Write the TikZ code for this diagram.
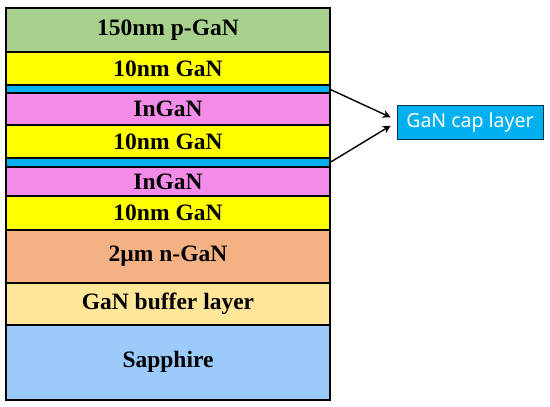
\documentclass[tikz,border=0pt]{standalone}
\usepackage{fontspec}
\setmainfont{Liberation Serif}
\newfontfamily\capfont{Noto Sans}
\usetikzlibrary{arrows.meta}
\definecolor{pgreen}{HTML}{A9D18E}
\definecolor{gyellow}{HTML}{FFFF00}
\definecolor{capblue}{HTML}{00B0F0}
\definecolor{ingpink}{HTML}{F38BE8}
\definecolor{norange}{HTML}{F4B183}
\definecolor{bufyel}{HTML}{FFE699}
\definecolor{sapblue}{HTML}{9ACBFA}
\tikzset{
  layer/.style={draw=black, line width=2.3pt, rectangle, inner sep=0pt, outer sep=0pt,
    minimum width=323.4pt, font=\fontsize{23.5}{25}\selectfont\bfseries, text=black},
  conn/.style={-{Stealth[length=8pt,width=8pt]}, line width=1.4pt, black},
  capbox/.style={draw=black!70!capblue, line width=0.8pt, fill=capblue, text=white,
    minimum width=146pt, minimum height=34pt, inner sep=0pt,
    font=\capfont\fontsize{19.5}{21}\selectfont}
}
\begin{document}
\begin{tikzpicture}[x=1pt,y=-1pt]
\useasboundingbox (0,0) rectangle (550,407);
\node[layer, fill=pgreen, minimum height=44pt] (pgan) at (168,30) {150nm p-GaN};
\node[layer, fill=gyellow, minimum height=33pt] (gan1) at (168,68.5) {10nm GaN};
\node[layer, fill=capblue, minimum height=8.3pt] (blue1) at (168,89.15) {};
\node[layer, fill=ingpink, minimum height=31.4pt] (ingan1) at (168,109) {InGaN};
\node[layer, fill=gyellow, minimum height=33.6pt] (gan2) at (168,141.5) {10nm GaN};
\node[layer, fill=capblue, minimum height=8.7pt] (blue2) at (168,162.65) {};
\node[layer, fill=ingpink, minimum height=29.2pt] (ingan2) at (168,181.6) {InGaN};
\node[layer, fill=gyellow, minimum height=33.5pt] (gan3) at (168,212.95) {10nm GaN};
\node[layer, fill=norange, minimum height=53.6pt] (ngan) at (168,256.5) {2\textmu m n-GaN};
\node[layer, fill=bufyel, minimum height=41.4pt] (buffer) at (168,304) {GaN buffer layer};
\node[layer, fill=sapblue, minimum height=75pt] (sapphire) at (168,362.2) {Sapphire};
\node[capbox] (cap) at (470,122) {GaN cap layer};
\draw[conn] (blue1.east) -- ([xshift=-6pt,yshift=4.7pt]cap.west);
\draw[conn] (blue2.east) -- ([xshift=-6pt,yshift=-3.7pt]cap.west);
\end{tikzpicture}
\end{document}
